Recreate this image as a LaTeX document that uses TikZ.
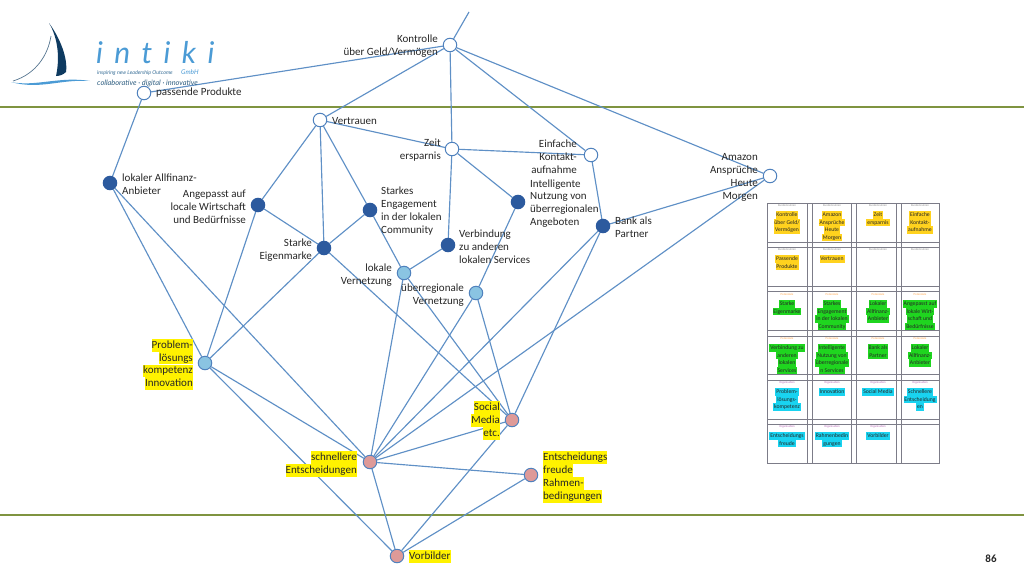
\documentclass[tikz,border=0pt]{standalone}
\usepackage{fontspec}
\setmainfont{Carlito}
\newfontfamily\logofont[LetterSpace=38,Ligatures=NoCommon]{Lato}
\newfontfamily\logosmall{Lato}
\usetikzlibrary{backgrounds}
\definecolor{edgeblue}{HTML}{5F90C6}
\definecolor{ringblue}{HTML}{4F81BD}
\definecolor{darkn}{HTML}{2C5A9E}
\definecolor{lightn}{HTML}{8AC4E2}
\definecolor{pinkn}{HTML}{DE9A98}
\definecolor{olive}{HTML}{7F9440}
\definecolor{hlY}{HTML}{FFF200}
\definecolor{tabY}{HTML}{FFD21E}
\definecolor{tabG}{HTML}{1FD51F}
\definecolor{tabC}{HTML}{19D3F0}
\definecolor{tgrid}{HTML}{7C7C88}
\definecolor{logoblue}{HTML}{4B9BD5}
\definecolor{navy}{HTML}{0E3A60}
\newcommand{\hlb}[1]{{\setlength{\fboxsep}{0pt}\colorbox{hlY}{\rule[-3.4pt]{0pt}{12.8pt}#1}}}
\newcommand{\cY}[1]{{\setlength{\fboxsep}{0pt}\colorbox{tabY}{\rule[-1.8pt]{0pt}{7.4pt}\,#1\,}}}
\newcommand{\cG}[1]{{\setlength{\fboxsep}{0pt}\colorbox{tabG}{\rule[-1.8pt]{0pt}{7.4pt}\,#1\,}}}
\newcommand{\cC}[1]{{\setlength{\fboxsep}{0pt}\colorbox{tabC}{\rule[-1.8pt]{0pt}{7.4pt}\,#1\,}}}
\tikzset{
  x=1pt,y=-1pt,
  dot/.style={circle,draw=ringblue,line width=1pt,inner sep=0pt,minimum size=13.5pt},
  opennode/.style={dot,fill=white},
  darknode/.style={dot,fill=darkn,draw=darkn},
  lightnode/.style={dot,fill=lightn},
  pinknode/.style={dot,fill=pinkn},
  edge/.style={draw=edgeblue,line width=1.15pt},
  lbl/.style={inner sep=0pt,text=black!85,font=\fontsize{11}{12.85}\selectfont},
  lblr/.style={lbl,anchor=east,align=right},
  lbll/.style={lbl,anchor=west,align=left},
  rule line/.style={draw=olive,line width=1.2pt},
  tline/.style={draw=tgrid,line width=0.7pt},
  tcell/.style={anchor=north,inner sep=0pt,align=center,text=black!85,font=\fontsize{5.7}{7.5}\selectfont},
  thead/.style={anchor=center,inner sep=0pt,text=black!45,font=\fontsize{3}{3}\selectfont},
}
\begin{document}
\begin{tikzpicture}
\useasboundingbox (0,0) rectangle (1024,576);
% logo
\fill[navy] (49,23) .. controls (60,38) and (68,58) .. (66,72) .. controls (63,75) and (59,76) .. (56,76) .. controls (60,58) and (58,38) .. (49,23) -- cycle;
\draw[navy!70,line width=0.7pt] (51,36) .. controls (48,55) and (36,74) .. (13,81);
\fill[logoblue] (11,82) .. controls (35,87) and (60,76) .. (90,81) .. controls (60,79) and (40,90) .. (11,82) -- cycle;
\node[anchor=base west,inner sep=0pt,text=logoblue,font=\logofont\itshape\fontsize{30}{30}\selectfont] (logoname) at (96,63) {intiki};
\node[anchor=base west,inner sep=0pt,text=logoblue!70!black,font=\logosmall\itshape\fontsize{5.3}{5.5}\selectfont] (logotag) at (97,74) {inspiring new Leadership Outcome};
\node[anchor=base west,inner sep=0pt,text=logoblue,font=\logosmall\itshape\fontsize{6.5}{6.5}\selectfont] (logogmbh) at (181,74) {GmbH};
\node[anchor=base west,inner sep=0pt,text=logoblue!60!black,font=\logosmall\itshape\fontsize{7.4}{7.5}\selectfont] (logoclaim) at (97,85) {collaborative · digital · innovative};
% nodes
\coordinate (top) at (469,12);
\node[opennode] (K) at (450,45) {};
\node[opennode] (P) at (144,93) {};
\node[opennode] (V) at (320,120) {};
\node[opennode] (Z) at (452,149) {};
\node[opennode] (E) at (591,155) {};
\node[opennode] (A) at (770,176) {};
\node[darknode] (LA) at (110,183) {};
\node[darknode] (AP) at (258,205) {};
\node[darknode] (SE) at (370,210) {};
\node[darknode] (IN) at (518,202) {};
\node[darknode] (B) at (603,226) {};
\node[darknode] (EM) at (324,248) {};
\node[darknode] (VB) at (448,245) {};
\node[lightnode] (LV) at (404,273) {};
\node[lightnode] (UV) at (476,293) {};
\node[lightnode] (PL) at (205,363) {};
\node[pinknode] (SO) at (512,420) {};
\node[pinknode] (SC) at (370,462) {};
\node[pinknode] (ER) at (531,475) {};
\node[pinknode] (VO) at (397,556) {};
% labels
\node[lblr] (tK) at (438,46) {Kontrolle\\über Geld/Vermögen};
\node[lbll] (tP) at (156,93) {passende Produkte};
\node[lbll] (tV) at (332,121) {Vertrauen};
\node[lblr] (tZ) at (441,150) {Zeit\\ersparnis};
\node[lblr] (tE) at (577,156.5) {Einfache\\Kontakt-\\aufnahme};
\node[lblr] (tA) at (758,177.5) {Amazon\\Ansprüche\\Heute\\Morgen};
\node[lbll] (tLA) at (122,184) {lokaler Allfinanz-\\Anbieter};
\node[lblr,align=right] (tAP) at (246,206.5) {Angepasst auf\\locale Wirtschaft\\und Bedürfnisse};
\node[lbll] (tSE) at (381,211) {Starkes\\Engagement\\in der lokalen\\Community};
\node[lbll] (tIN) at (530,203.5) {Intelligente\\Nutzung von\\überregionalen\\Angeboten};
\node[lbll] (tB) at (615,227) {Bank als\\Partner};
\node[lbll] (tVB) at (459,246.5) {Verbindung\\zu anderen\\lokalen Services};
\node[lblr] (tEM) at (312,250) {Starke\\Eigenmarke};
\node[lblr] (tLV) at (392,275) {lokale\\Vernetzung};
\node[lblr] (tUV) at (464,295) {überregionale\\Vernetzung};
\node[lblr] (tPL) at (193,364.5) {\hlb{Problem-}\\\hlb{lösungs}\\\hlb{kompetenz}\\\hlb{Innovation}};
\node[lblr] (tSO) at (500,420.5) {\hlb{Social}\\\hlb{Media}\\\hlb{etc.}};
\node[lblr] (tSC) at (357,464) {\hlb{schnellere}\\\hlb{Entscheidungen}};
\node[lbll] (tER) at (543,477) {\hlb{Entscheidungs}\\\hlb{freude}\\\hlb{Rahmen-}\\\hlb{bedingungen}};
\node[lbll] (tVO) at (409,556.5) {\hlb{Vorbilder}};
\node[lbl,font=\fontsize{11}{12}\selectfont\bfseries] (page) at (991,559) {86};
% table grid
\draw[tline] (767,203) rectangle (939,463);
\foreach \xx in {807,812,851,856,896,901} \draw[tline] (\xx,203) -- (\xx,463);
\foreach \yy in {242,247,286,291,330,336,374,380,419,424} \draw[tline] (767,\yy) -- (939,\yy);
% table cells
\foreach \xx in {787,832,878,920} \foreach \yy in {205,249} \node[thead] at (\xx,\yy) {Kundennutzen};
\foreach \xx in {787,832,878,920} \foreach \yy in {294,338} \node[thead,text=orange!70] at (\xx,\yy) {Potenziale};
\foreach \xx in {787,832,878,920} \node[thead,text=violet!60] at (\xx,383) {Organisation};
\foreach \xx in {787,832,878} \node[thead,text=violet!60] at (\xx,427) {Organisation};
\node[tcell] at (787,211) {\cY{Kontrolle}\\\cY{über Geld/}\\\cY{Vermögen}};
\node[tcell] at (832,211) {\cY{Amazon}\\\cY{Ansprüche}\\\cY{Heute}\\\cY{Morgen}};
\node[tcell] at (878,211) {\cY{Zeit}\\\cY{ersparnis}};
\node[tcell] at (920,211) {\cY{Einfache}\\\cY{Kontakt-}\\\cY{aufnahme}};
\node[tcell] at (787,255) {\cY{Passende}\\\cY{Produkte}};
\node[tcell] at (832,255) {\cY{Vertrauen}};
\node[tcell] at (787,300) {\cG{Starke}\\\cG{Eigenmarke}};
\node[tcell] at (832,300) {\cG{Starkes}\\\cG{Engagement}\\\cG{in der lokalen}\\\cG{Community}};
\node[tcell] at (878,300) {\cG{Lokaler}\\\cG{Allfinanz-}\\\cG{Anbieter}};
\node[tcell] at (920,300) {\cG{Angepasst auf}\\\cG{lokale Wirt-}\\\cG{schaft und}\\\cG{Bedürfnisse}};
\node[tcell] at (787,344) {\cG{Verbindung zu}\\\cG{anderen}\\\cG{lokalen}\\\cG{Services}};
\node[tcell] at (832,344) {\cG{Intelligente}\\\cG{Nutzung von}\\\cG{überregionale}\\\cG{n Services}};
\node[tcell] at (878,344) {\cG{Bank als}\\\cG{Partner}};
\node[tcell] at (920,344) {\cG{Lokaler}\\\cG{Allfinanz-}\\\cG{Anbieter}};
\node[tcell] at (787,388) {\cC{Problem-}\\\cC{lösungs-}\\\cC{kompetenz}};
\node[tcell] at (832,388) {\cC{Innovation}};
\node[tcell] at (878,388) {\cC{Social Media}};
\node[tcell] at (920,388) {\cC{Schnellere}\\\cC{Entscheidung}\\\cC{en}};
\node[tcell] at (787,432) {\cC{Entscheidungs}\\\cC{freude}};
\node[tcell] at (832,432) {\cC{Rahmenbedin}\\\cC{gungen}};
\node[tcell] at (878,432) {\cC{Vorbilder}};
% background: rules and connectors
\begin{scope}[on background layer]
\draw[rule line] (0,107) -- (1024,107);
\draw[rule line] (0,515) -- (1024,515);
\foreach \a/\b in {K/top,K/P,K/V,K/Z,K/E,K/A,V/Z,V/AP,V/EM,V/SE,Z/E,Z/VB,Z/IN,E/B,A/B,A/SC,
  P/LA,LA/PL,LA/SC,AP/EM,AP/PL,SE/EM,SE/LV,EM/PL,EM/SO,VB/LV,IN/UV,B/SC,B/SO,
  LV/SC,LV/SO,UV/SC,UV/SO,PL/SC,PL/VO,SO/SC,SC/ER,SC/VO,SO/VO,ER/VO}
  \draw[edge] (\a) -- (\b);
\end{scope}
\end{tikzpicture}
\end{document}
